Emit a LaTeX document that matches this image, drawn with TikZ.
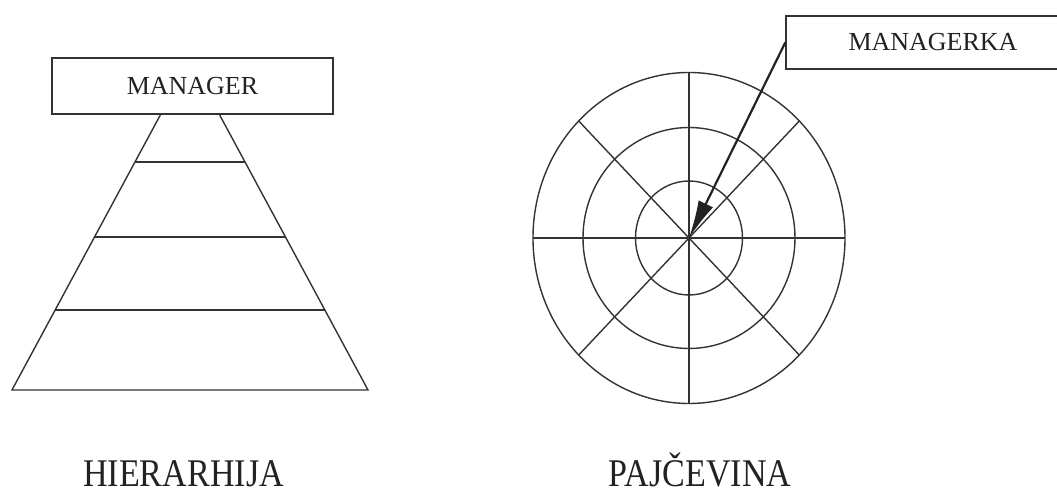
\documentclass[tikz,border=0pt]{standalone}
\usepackage{fontspec}
\setmainfont{Liberation Serif}
\usepackage{tikz}
\usetikzlibrary{
  arrows.meta,
  positioning,
  calc
}
\definecolor{InkGrey}{HTML}{333333}
\definecolor{InkText}{HTML}{222222}

\tikzset{
  labelbox/.style={draw=InkGrey,fill=white,line width=0.7pt,inner sep=0pt,
                   text=InkText,font=\fontsize{13}{15}\selectfont},
  caption/.style={anchor=base,xscale=0.87,transform shape,text=InkText,
                  font=\fontsize{19.6}{22}\selectfont},
  webline/.style={draw=InkGrey,line width=0.7pt}
}

\begin{document}
\begin{tikzpicture}[x=0.5pt,y=-0.5pt]
  \clip (0,0) rectangle (1057,496);

  % hierarchy
  \coordinate (apex) at (190,60);
  \coordinate (baseL) at (12,390);
  \coordinate (baseR) at (368,390);
  \draw[webline] (apex) -- (baseL) -- (baseR) -- cycle;
  \foreach \t in {0.309,0.536,0.758}
    \draw[webline] ($(apex)!\t!(baseL)$) -- ($(apex)!\t!(baseR)$);
  \node[labelbox,minimum width=140.5pt,minimum height=28pt] (manager) at (192.5,86) {MANAGER};
  \node[caption] (hier) at (183.5,487) {HIERARHIJA};

  % web
  \coordinate (hub) at (689,238);
  \draw[webline] (hub) ellipse [x radius=156,y radius=165.5];
  \draw[webline] (hub) ellipse [x radius=106,y radius=110.5];
  \draw[webline] (hub) ellipse [x radius=53.5,y radius=57];
  \foreach \a in {0,45,...,315}
    \draw[webline] (hub) -- ++(\a:156 and 165.5);
  \node[labelbox,minimum width=147pt,minimum height=26.5pt] (managerka) at (933,42.5) {MANAGERKA};
  \draw[-{Latex[length=19pt,width=8pt]},line width=1.1pt,InkText] (managerka.west) -- (hub);
  \node[caption] (pajc) at (700,487) {PAJČEVINA};
\end{tikzpicture}
\end{document}
